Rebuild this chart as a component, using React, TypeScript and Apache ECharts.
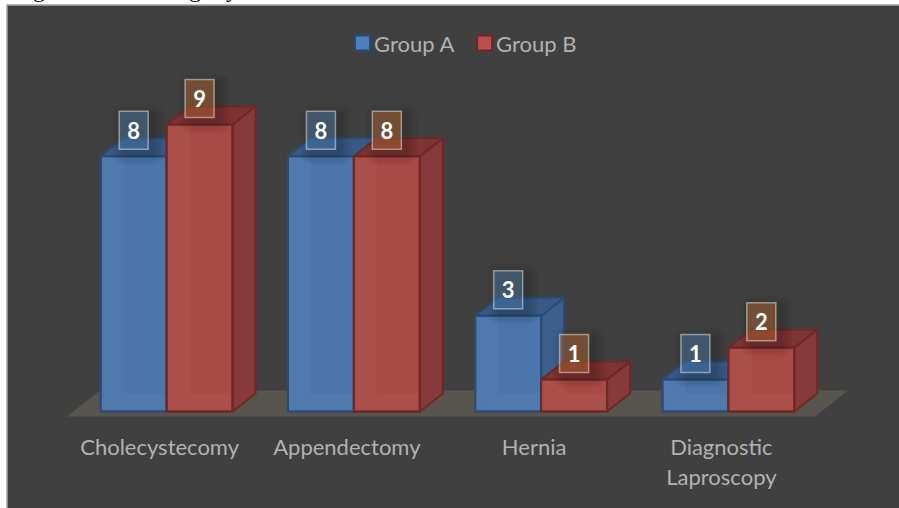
import React, { useEffect, useRef } from "react";
import * as echarts from "echarts";

const categories = ["Cholecystecomy", "Appendectomy", "Hernia", "Diagnostic\nLaproscopy"];
const groupAValues = [8, 8, 3, 1];
const groupBValues = [9, 8, 1, 2];

const FONT = "Lato, 'Open Sans', sans-serif";
const DEPTH_X = 23;
const DEPTH_Y = 18;
const BAR_SHARE = 0.352;
const SHADOW_SPREADS = [11, 8, 5, 2];

const bluePalette = {
  front: "#4b75ab",
  side: "#3e5f8b",
  top: "#395a85",
  edge: "#2a4c76",
  label: "rgba(87,153,213,0.35)",
};
const redPalette = {
  front: "#a84a45",
  side: "#863a39",
  top: "#7e3431",
  edge: "#6e2826",
  label: "rgba(178,102,52,0.5)",
};

type Palette = typeof bluePalette;

const poly = (points: number[][], fill: string, stroke: string, lineWidth = 2) => ({
  type: "polygon",
  shape: { points },
  style: { fill, stroke, lineWidth, lineJoin: "round" },
});

// One extruded column: the inner faces show faintly through the front face.
const renderBox = (palette: Palette, slot: number) => (_: any, api: any) => {
  const band = api.size([1, 0])[0];
  const w = band * BAR_SHARE;
  const [cx, y0] = api.coord([api.value(0), 0]);
  const [, y1] = api.coord([api.value(0), api.value(1)]);
  const x = cx + slot * w;
  const r = x + w;
  const dx = DEPTH_X;
  const dy = DEPTH_Y;
  const inner = "rgba(255,255,255,0.03)";
  const seam = "rgba(0,0,0,0)";
  return {
    type: "group",
    children: [
      poly([[r, y0], [r + dx, y0 - dy], [r + dx, y1 - dy], [r, y1]], palette.side, palette.edge),
      poly([[x, y1], [x + dx, y1 - dy], [r + dx, y1 - dy], [r, y1]], palette.top, palette.edge),
      poly([[x, y0], [r, y0], [r, y1], [x, y1]], palette.front, palette.edge),
      poly([[x, y0], [x + dx, y0 - dy], [x + dx, y1], [x, y1]], inner, seam, 0),
      poly([[x, y0], [r, y0], [r, y0 - dy], [x + dx, y0 - dy]], inner, seam, 0),
      poly([[x, y0], [r, y0], [r, y1], [x, y1]], "rgba(0,0,0,0)", palette.edge),
    ],
  };
};

// Boxed value label floating above a column, with a soft stacked shadow behind it.
const renderTag = (palette: Palette, slot: number) => (_: any, api: any) => {
  const band = api.size([1, 0])[0];
  const w = band * BAR_SHARE;
  const [cx] = api.coord([api.value(0), 0]);
  const [, y1] = api.coord([api.value(0), api.value(1)]);
  const mid = cx + slot * w + w / 2;
  const tagW = 29;
  const tagH = 38;
  const top = y1 - 7 - tagH;
  const shadows = SHADOW_SPREADS.map((spread) => ({
    type: "rect",
    shape: {
      x: mid - tagW / 2 + 5 - spread,
      y: top + 4 - spread,
      width: tagW + spread * 2,
      height: tagH + spread * 2,
      r: spread,
    },
    style: { fill: "rgba(0,0,0,0.045)" },
  }));
  return {
    type: "group",
    children: [
      ...shadows,
      {
        type: "rect",
        shape: { x: mid - tagW / 2, y: top, width: tagW, height: tagH },
        style: { fill: palette.label, stroke: "rgba(255,255,255,0.45)", lineWidth: 1.5 },
      },
      {
        type: "text",
        x: mid,
        y: top + tagH / 2,
        style: {
          text: String(api.value(1)),
          fill: "#ffffff",
          font: `bold 22px ${FONT}`,
          align: "center",
          verticalAlign: "middle",
        },
      },
    ],
  };
};

// Floor plate under all of the columns.
const renderFloor = (_: any, api: any) => {
  const band = api.size([1, 0])[0];
  const [cx0, y0] = api.coord([0, 0]);
  const left = cx0 - band / 2 - 6;
  const right = cx0 + categories.length * band - band / 2 - 7;
  return poly(
    [[left, y0 + 5], [right, y0 + 5], [right + 33, y0 - 21], [left + 33, y0 - 21]],
    "#57554d",
    "none",
    0,
  );
};

const toPairs = (values: number[]) => values.map((v, i) => [i, v]);

const captionPiece = (text: string, x: number) => ({
  type: "text",
  x,
  y: -11,
  z: 5,
  style: { text, fill: "#111111", font: "24px 'Liberation Serif', serif", verticalAlign: "middle" },
});

export default function App() {
  const ref = useRef<HTMLDivElement>(null);

  useEffect(() => {
    document.body.style.margin = "0";
    const chart = echarts.init(ref.current!, undefined, { renderer: "svg" });
    chart.setOption({
      animation: false,
      backgroundColor: "#ffffff",
      graphic: [
        {
          type: "rect",
          z: 0,
          shape: { x: 7, y: 5, width: 900, height: 510 },
          style: { fill: "#404040", stroke: "#a3a3a3", lineWidth: 1.5 },
        },
        captionPiece("g", 33),
        captionPiece("g", 189),
        captionPiece("y", 226),
      ],
      legend: {
        left: 354,
        top: 32,
        padding: 0,
        itemWidth: 15,
        itemHeight: 15,
        itemGap: 21,
        icon: "rect",
        textStyle: { color: "#b2b2b2", fontFamily: FONT, fontSize: 22, padding: [0, 0, 0, -1] },
        data: [
          { name: "Group A", itemStyle: { color: "#4f7fbb", borderColor: "#274a75", borderWidth: 2 } },
          { name: "Group B", itemStyle: { color: "#b94f4c", borderColor: "#6e2725", borderWidth: 2 } },
        ],
      },
      grid: { left: 73, top: 92.5, width: 749, height: 319 },
      xAxis: {
        type: "category",
        data: categories,
        axisLine: { show: false },
        axisTick: { show: false },
        axisLabel: {
          color: "#b2b2b2",
          fontFamily: FONT,
          fontSize: 22,
          lineHeight: 30,
          margin: 20,
          padding: [0, 14, 0, 0],
          interval: 0,
        },
      },
      yAxis: { type: "value", min: 0, max: 10, show: false },
      series: [
        { type: "custom", name: "Floor", renderItem: renderFloor, data: [[0, 0]], z: 1, silent: true },
        { type: "custom", name: "Group A", renderItem: renderBox(bluePalette, -1), data: toPairs(groupAValues), z: 2 },
        { type: "custom", name: "Group B", renderItem: renderBox(redPalette, 0), data: toPairs(groupBValues), z: 3 },
        { type: "custom", name: "Group A tags", renderItem: renderTag(bluePalette, -1), data: toPairs(groupAValues), z: 4 },
        { type: "custom", name: "Group B tags", renderItem: renderTag(redPalette, 0), data: toPairs(groupBValues), z: 5 },
      ],
    });
    return () => chart.dispose();
  }, []);

  return <div ref={ref} style={{ width: 899, height: 508 }} />;
}
